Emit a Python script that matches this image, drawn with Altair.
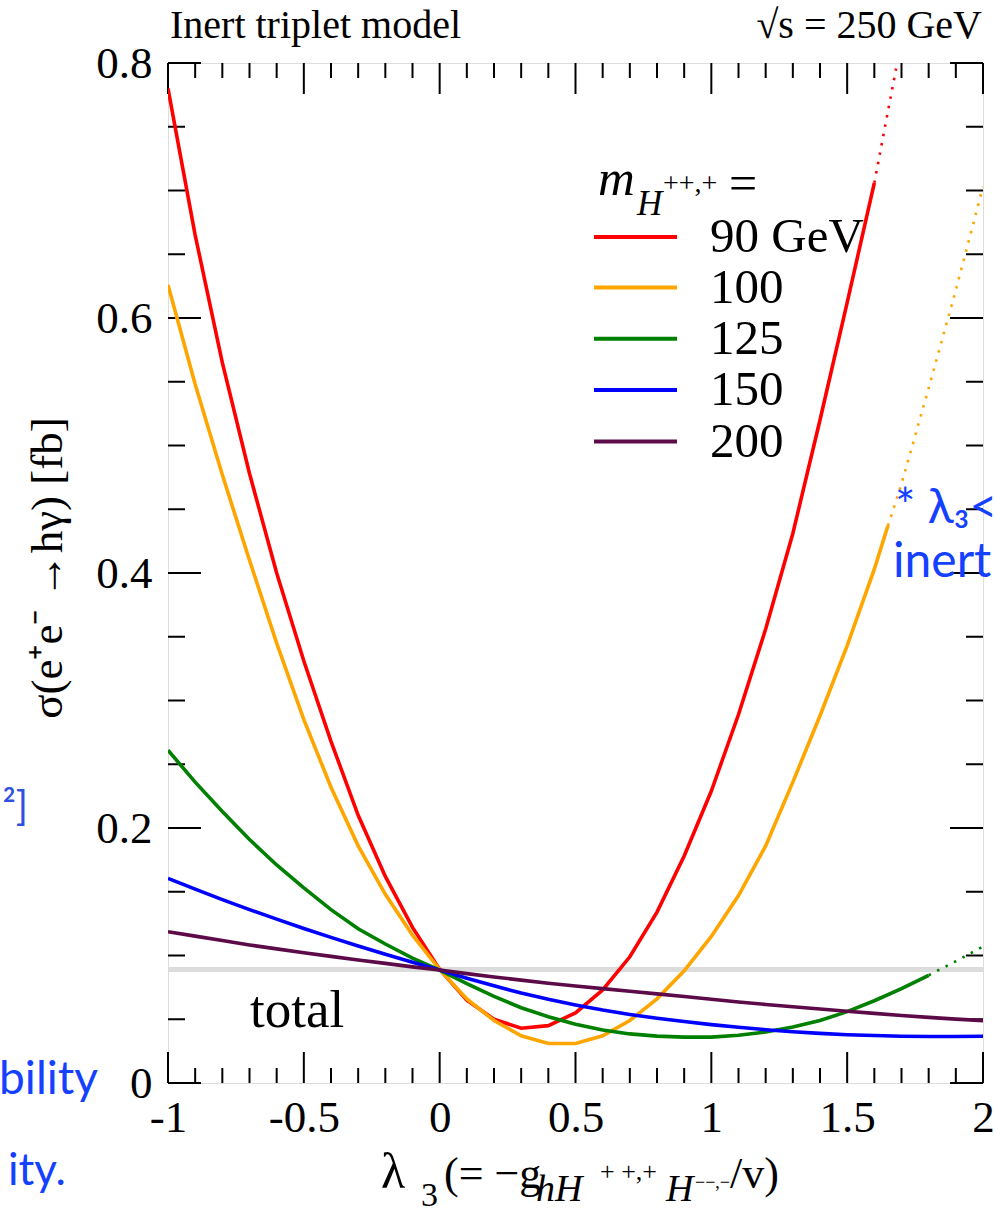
import altair as alt
import pandas as pd

# ---------------- data ----------------
LAM = [-1.0, -0.9, -0.8, -0.7, -0.6, -0.5, -0.4, -0.3, -0.2, -0.1, 0.0,
       0.1, 0.2, 0.3, 0.4, 0.5, 0.6, 0.7, 0.8, 0.9, 1.0,
       1.1, 1.2, 1.3, 1.4, 1.5, 1.6, 1.7, 1.8, 1.9, 2.0]

# m = 90 GeV (solid part up to 1.6)
red_sigma = [0.780, 0.665, 0.565, 0.478, 0.400, 0.331, 0.268, 0.210, 0.162, 0.122, 0.089,
             0.065, 0.050, 0.043, 0.045, 0.055, 0.073, 0.099, 0.134, 0.178, 0.229,
             0.289, 0.356, 0.431, 0.520, 0.612, 0.706]
red_dot_lam = [1.6, 1.7]
red_dot_sigma = [0.706, 0.818]

# m = 100 GeV (solid part up to 1.65)
orange_lam = LAM[:27] + [1.65]
orange_sigma = [0.626, 0.548, 0.477, 0.410, 0.345, 0.285, 0.232, 0.186, 0.148, 0.116, 0.089,
                0.066, 0.049, 0.037, 0.031, 0.031, 0.037, 0.049, 0.066, 0.088, 0.115,
                0.147, 0.186, 0.236, 0.288, 0.343, 0.403, 0.437]
orange_dot_lam = [1.65, 1.7, 1.8, 1.9, 2.0]
orange_dot_sigma = [0.437, 0.470, 0.545, 0.622, 0.703]

# m = 125 GeV (solid part up to 1.8)
green_sigma = [0.261, 0.236, 0.213, 0.191, 0.171, 0.153, 0.136, 0.121, 0.109, 0.098, 0.0886,
               0.078, 0.068, 0.059, 0.052, 0.046, 0.0415, 0.0385, 0.0368, 0.036, 0.036,
               0.0375, 0.040, 0.044, 0.049, 0.056, 0.0645, 0.074, 0.0845]
green_dot_lam = [1.8, 1.9, 2.0]
green_dot_sigma = [0.0845, 0.0955, 0.107]

# m = 150 GeV
blue_sigma = [0.1605, 0.152, 0.1438, 0.136, 0.1285, 0.1212, 0.1142, 0.1075, 0.101, 0.0947, 0.0886,
              0.0822, 0.0762, 0.0706, 0.0656, 0.0612, 0.0572, 0.0538, 0.0508, 0.0482, 0.0458,
              0.0437, 0.0418, 0.0402, 0.0389, 0.0379, 0.0372, 0.0367, 0.0365, 0.0365, 0.0367]

# m = 200 GeV
purple_sigma = [0.1187, 0.1152, 0.1117, 0.1083, 0.1052, 0.1022, 0.0993, 0.0965, 0.0938, 0.0911, 0.0886,
                0.0858, 0.0832, 0.0807, 0.0783, 0.0761, 0.0740, 0.0719, 0.0699, 0.0678, 0.0657,
                0.0635, 0.0616, 0.0598, 0.0580, 0.0563, 0.0546, 0.0530, 0.0515, 0.0501, 0.0489]

total_sigma = [0.089]

legend_labels = ["90 GeV", "100", "125", "150", "200"]
colors = ["#ff0000", "#ffa500", "#008000", "#0000ff", "#5c0a48"]

x_major = [-1, -0.5, 0, 0.5, 1, 1.5, 2]
x_minor = [-0.9, -0.8, -0.7, -0.6, -0.4, -0.3, -0.2, -0.1, 0.1, 0.2, 0.3, 0.4,
           0.6, 0.7, 0.8, 0.9, 1.1, 1.2, 1.3, 1.4, 1.6, 1.7, 1.8, 1.9]
y_major = [0, 0.2, 0.4, 0.6, 0.8]
y_minor = [0.05, 0.1, 0.15, 0.25, 0.3, 0.35, 0.45, 0.5, 0.55, 0.65, 0.7, 0.75]

# ---------------- layout ----------------
W, H = 815, 1020
SERIF = "Liberation Serif"
SANS = "Lato"
BLUE_TXT = "#1440ff"

xscale = alt.Scale(domain=[-1, 2], nice=False, zero=False)
yscale = alt.Scale(domain=[0, 0.8], nice=False, zero=True)
xaxis = alt.Axis(values=x_major, labelExpr="'' + datum.value", ticks=False, tickSize=0,
                 domain=False, grid=False, labelFont=SERIF, labelFontSize=45,
                 labelColor="black", labelPadding=12, labelFlush=False,
                 labelOverlap=False, labelBound=False, title=None)
yaxis = alt.Axis(values=y_major, labelExpr="'' + datum.value", ticks=False, tickSize=0,
                 domain=False, grid=False, labelFont=SERIF, labelFontSize=45,
                 labelColor="black", labelPadding=16, labelFlush=False,
                 labelOverlap=False, labelBound=False, title=None)


def X(f):
    return alt.X(f, type="quantitative", scale=xscale, axis=xaxis)


def Y(f):
    return alt.Y(f, type="quantitative", scale=yscale, axis=yaxis)


def line(lams, sig, color, dotted=False):
    df = pd.DataFrame({"lam": lams, "sigma": sig})
    if dotted:
        m = alt.Chart(df).mark_line(color=color, strokeWidth=2.6, strokeDash=[2.5, 7],
                                    clip=True)
    else:
        m = alt.Chart(df).mark_line(color=color, strokeWidth=3.6, clip=True)
    return m.encode(x=X("lam"), y=Y("sigma"))


def txt(s, x, y, size, font=SERIF, color="black", align="left",
        baseline="alphabetic", angle=None, italic=False):
    kw = dict(align=align, baseline=baseline, font=font, fontSize=size, color=color)
    if angle is not None:
        kw["angle"] = angle
    if italic:
        kw["fontStyle"] = "italic"
    return alt.Chart(pd.DataFrame({"t": [s]})).mark_text(**kw).encode(
        text="t:N", x=alt.value(x), y=alt.value(y))


layers = []

# total (gray) reference line
layers.append(alt.Chart(pd.DataFrame({"s": total_sigma})).mark_rule(
    color="#dcdcdc", strokeWidth=5).encode(y=Y("s")))


# tick marks on all four sides (inside)
def ticks_x(vals, L):
    df = pd.DataFrame({"v": vals})
    b = alt.Chart(df).mark_rule(color="black", strokeWidth=2).encode(
        x=X("v"), y=alt.value(H), y2=alt.value(H - L))
    t = alt.Chart(df).mark_rule(color="black", strokeWidth=2).encode(
        x=X("v"), y=alt.value(0), y2=alt.value(L))
    return [b, t]


def ticks_y(vals, L):
    df = pd.DataFrame({"v": vals})
    l = alt.Chart(df).mark_rule(color="black", strokeWidth=2).encode(
        y=Y("v"), x=alt.value(0), x2=alt.value(L))
    r = alt.Chart(df).mark_rule(color="black", strokeWidth=2).encode(
        y=Y("v"), x=alt.value(W), x2=alt.value(W - L))
    return [l, r]


layers += ticks_x(x_minor, 15) + ticks_x(x_major, 31)
layers += ticks_y(y_minor, 17) + ticks_y(y_major, 33)

# curves
layers.append(line(LAM[:27], red_sigma, colors[0]))
layers.append(line(red_dot_lam, red_dot_sigma, colors[0], dotted=True))
layers.append(line(orange_lam, orange_sigma, colors[1]))
layers.append(line(orange_dot_lam, orange_dot_sigma, colors[1], dotted=True))
layers.append(line(LAM[:29], green_sigma, colors[2]))
layers.append(line(green_dot_lam, green_dot_sigma, colors[2], dotted=True))
layers.append(line(LAM, blue_sigma, colors[3]))
layers.append(line(LAM, purple_sigma, colors[4]))

# legend (manual)
leg_y = [174, 224.5, 275.8, 327, 378.5]
for lab, col, yy in zip(legend_labels, colors, leg_y):
    layers.append(alt.Chart(pd.DataFrame({"t": [lab]})).mark_rule(
        color=col, strokeWidth=4).encode(x=alt.value(426), x2=alt.value(509),
                                          y=alt.value(yy)))
    layers.append(txt(lab, 542, yy, 49, baseline="middle"))
layers.append(txt("m", 430, 132, 51, italic=True))
layers.append(txt("H", 469, 152, 35, italic=True))
layers.append(txt("++,+", 495, 129, 28))
layers.append(txt("=", 561, 137, 50))

# titles and annotations
layers.append(txt("Inert triplet model", 2, -25, 40))
layers.append(txt("√s = 250 GeV", 814, -25, 40, align="right"))
layers.append(txt("total", 82, 964, 53))
layers.append(txt("σ(e⁺e⁻ →hγ) [fb]", -106, 505, 45, align="center", angle=270))

# x-axis title pieces
layers.append(txt("λ", 213, 1125, 50))
layers.append(txt("3", 253, 1143, 34))
layers.append(txt("(= −g", 276, 1125, 44))
layers.append(txt("hH", 368, 1138, 38, italic=True))
layers.append(txt("+ +,+", 432, 1117, 26))
layers.append(txt("H", 498, 1138, 38, italic=True))
layers.append(txt("−−,−", 527, 1125, 18))
layers.append(txt("/v)", 562, 1125, 44))

# slide text fragments cut by the image edge
layers.append(txt("* λ₃<", 727, 460, 48, font=SANS, color=BLUE_TXT))
layers.append(txt("inert", 725, 514, 48, font=SANS, color=BLUE_TXT))
layers.append(txt("bility", -70, 1031, 46, font=SANS, color=BLUE_TXT, align="right"))
layers.append(txt("ity.", -160, 1122, 44, font=SANS, color=BLUE_TXT))
layers.append(txt("²]", -140, 757, 40, font=SANS, color="#3050e0", align="right"))

chart = alt.layer(*layers).properties(
    width=W, height=H,
    autosize=alt.AutoSizeParams(type="none"),
    padding={"left": 168, "top": 63, "right": 12, "bottom": 130},
).configure_view(stroke="black", strokeWidth=2.5, fill="white").configure(background="white")

chart.save("out.html", embed_options={"renderer": "svg", "actions": False})
